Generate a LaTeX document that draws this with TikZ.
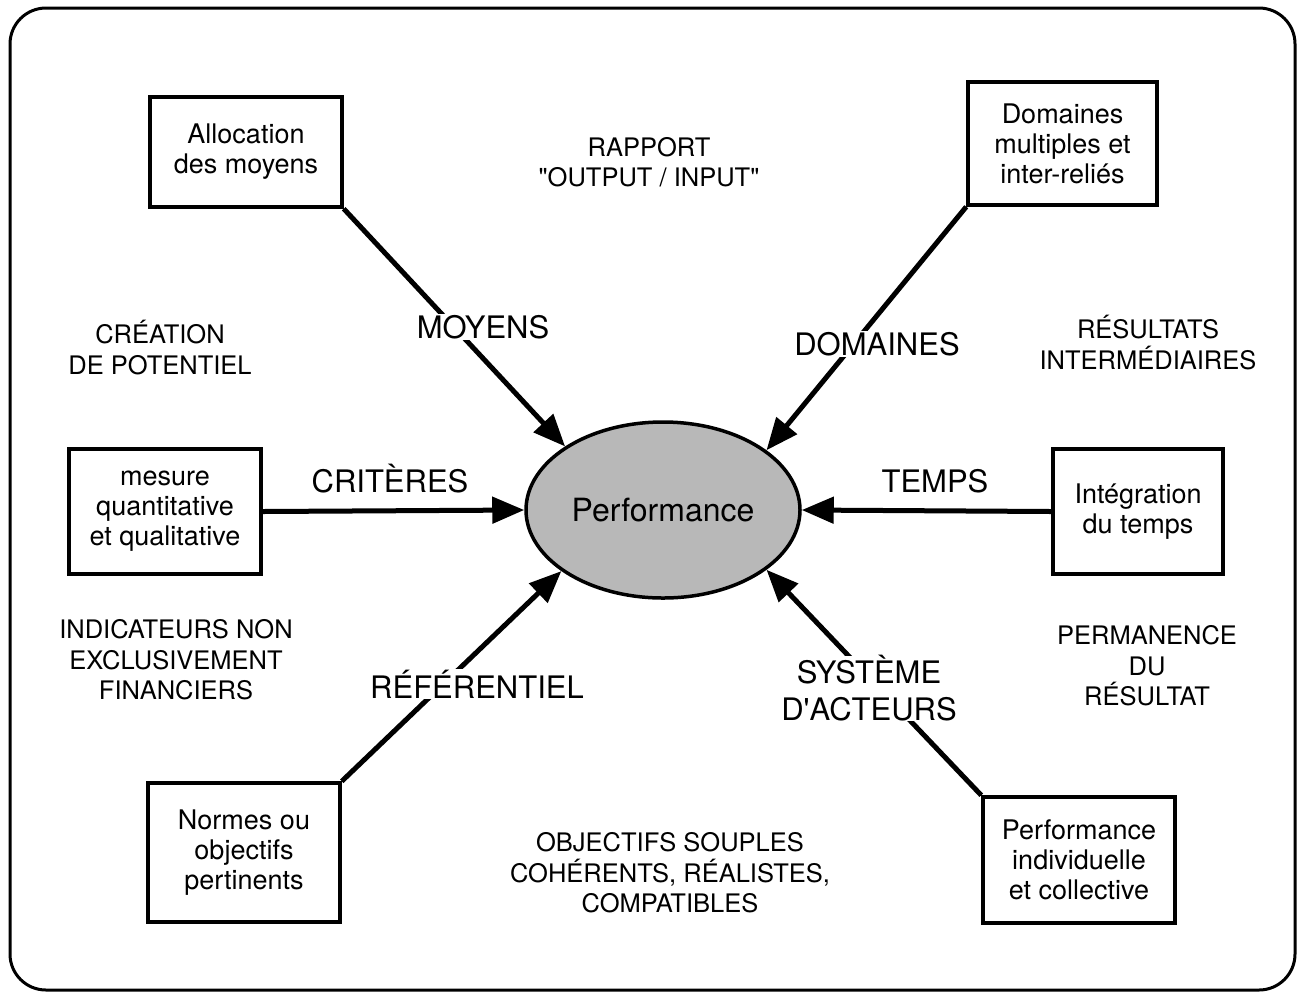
\documentclass[tikz,border=0pt]{standalone}
\usepackage{fontspec}
\setmainfont{TeX Gyre Heros}
\usetikzlibrary{arrows.meta,shapes.geometric}

% straight double quote, set as a glyph so no TeX mapping curls it
\newcommand\straightdq{\XeTeXglyph\XeTeXcharglyph"22\relax}

\begin{document}
\begin{tikzpicture}[x=1pt,y=-1pt,
  box/.style={draw, line width=3.5pt, inner sep=0pt, align=center,
    font=\fontsize{27}{30}\selectfont},
  link/.style={line width=5pt, -{Triangle[length=32pt,width=26pt]}},
  axis/.style={font=\fontsize{31}{37}\selectfont, inner sep=1pt, align=center},
  cover/.style={fill=white},
  note/.style={font=\fontsize{25.5}{30.5}\selectfont, align=center, inner sep=0pt},
]
\useasboundingbox (0,0) rectangle (1305,997);

% outer frame
\draw[line width=3pt, rounded corners=36pt] (10,8) rectangle (1295,990);

% central notion
\node[ellipse, draw, line width=3.5pt, fill=black!28, minimum width=274pt,
  minimum height=176pt, inner sep=0pt, font=\fontsize{32}{36}\selectfont]
  (perf) at (663,510) {Performance};

% the six dimensions
\node[box, minimum width=192pt, minimum height=110pt] (alloc)   at (246,152)    {Allocation\\des moyens};
\node[box, minimum width=189pt, minimum height=123pt] (dom)     at (1062.5,143.5) {Domaines\\multiples et\\inter-reliés};
\node[box, minimum width=192pt, minimum height=125pt] (mesure)  at (165,511.5)  {mesure\\quantitative\\et qualitative};
\node[box, minimum width=170pt, minimum height=125pt] (integ)   at (1138,511.5) {Intégration\\du temps};
\node[box, minimum width=192pt, minimum height=139pt] (normes)  at (244,852.5)  {Normes ou\\objectifs\\pertinents};
\node[box, minimum width=192pt, minimum height=126pt] (perfind) at (1079,860)   {Performance\\individuelle\\et collective};

% connectors
\draw[link] (alloc.south east)   -- (perf.147.5);
\draw[link] (dom.south west)     -- (perf.30.5);
\draw[link] (mesure.east)        -- (perf.west);
\draw[link] (integ.west)         -- (perf.east);
\draw[link] (normes.north east)  -- (perf.211.5);
\draw[link] (perfind.north west) -- (perf.330);

% connector labels
\node[axis, cover, anchor=base] (lmoy) at (483,338) {MOYENS};
\node[axis, cover, anchor=base] (ldom) at (877,355) {DOMAINES};
\node[axis, anchor=base] (lcrit) at (390,492) {CRITÈRES};
\node[axis, anchor=base] (ltemps) at (935,492) {TEMPS};
\node[axis, cover, anchor=base] (lref) at (477,698) {RÉFÉRENTIEL};
\node[axis, cover, inner sep=0pt] (lsys) at (869,688.5) {SYSTÈME\\D\textquotesingle ACTEURS};

% free notes
\node[note] (rapport)     at (649,162)   {RAPPORT\\\straightdq OUTPUT / INPUT\straightdq};
\node[note] (creation)    at (160,347.5) {CRÉATION\\DE POTENTIEL};
\node[note] (resultats)   at (1148,342.5) {RÉSULTATS\\INTERMÉDIAIRES};
\node[note] (indicateurs) at (176,660)   {INDICATEURS NON\\EXCLUSIVEMENT\\FINANCIERS};
\node[note] (permanence)  at (1147,666)  {PERMANENCE\\DU\\RÉSULTAT};
\node[note] (objectifs)   at (670,873)   {OBJECTIFS SOUPLES\\COHÉRENTS, RÉALISTES,\\COMPATIBLES};
\end{tikzpicture}
\end{document}
